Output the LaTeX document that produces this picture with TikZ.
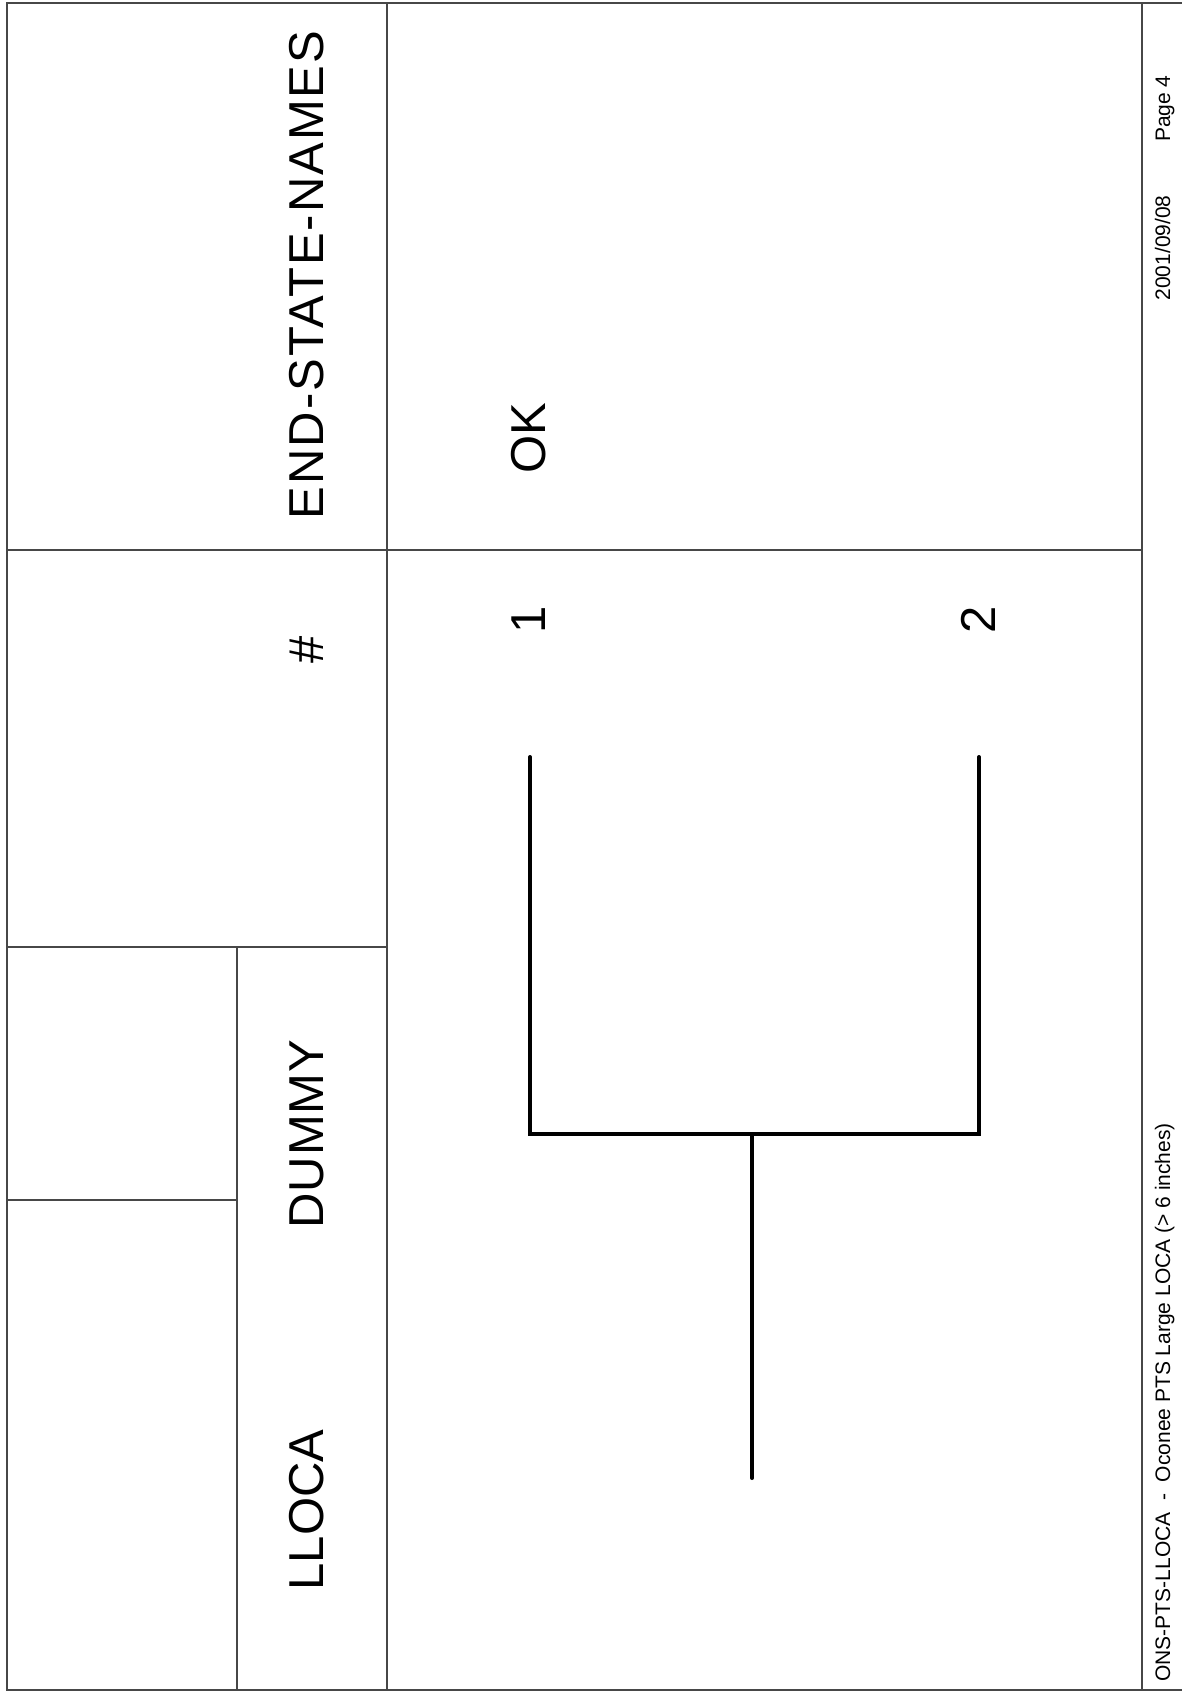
\documentclass[tikz,border=0pt]{standalone}
\usepackage{fontspec}
\setmainfont{Liberation Sans}
\begin{document}
\begin{tikzpicture}[x=0.5pt,y=-0.5pt,
  grid/.style={draw=black!72,line width=1pt},
  branch/.style={draw=black,line width=2pt,line cap=round,line join=miter},
  big/.style={font=\fontsize{24.5pt}{28pt}\selectfont,rotate=90,inner sep=0pt,anchor=base},
  small/.style={font=\fontsize{10.5pt}{12pt}\selectfont,rotate=90,inner sep=0pt}]
\useasboundingbox (0,0) rectangle (1182,1691);
% frame and grid
\draw[grid] (1182,3) -- (7,3) -- (7,1690) -- (1182,1690);
\draw[grid] (387,3) -- (387,1690);
\draw[grid] (1142,3) -- (1142,1690);
\draw[grid] (7,550) -- (1142,550);
\draw[grid] (7,947) -- (387,947);
\draw[grid] (237,947) -- (237,1690);
\draw[grid] (7,1200) -- (237,1200);
% headings
\node[big] (hEnd) at (323,275) {\addfontfeature{LetterSpace=4}END-STATE-NAMES};
\node[big] (hNum) at (323,650) {\#};
\node[big] (hDummy) at (323,1134) {\addfontfeature{LetterSpace=2}DUMMY};
\node[big] (hLloca) at (323,1510) {LLOCA};
% tree
\coordinate (root) at (752,1478);
\coordinate (junc) at (752,1134);
\coordinate (c1) at (530,1134);
\coordinate (c2) at (979,1134);
\coordinate (leaf1) at (530,757);
\coordinate (leaf2) at (979,757);
\draw[branch] (root) -- (junc);
\draw[branch] (leaf1) -- (c1) -- (c2) -- (leaf2);
% sequence numbers and end states
\node[big] (n1) at (545,620) {1};
\node[big] (n2) at (995,620) {2};
\node[big] (ok) at (545,438) {OK};
% footer
\node[small,anchor=base west] (title) at (1170,1682) {ONS-PTS-LLOCA \ - \ Oconee PTS Large LOCA (> 6 inches)};
\node[small,anchor=base east] (date) at (1170,195) {2001/09/08};
\node[small,anchor=base east] (page) at (1170,75) {Page 4};
\end{tikzpicture}
\end{document}
